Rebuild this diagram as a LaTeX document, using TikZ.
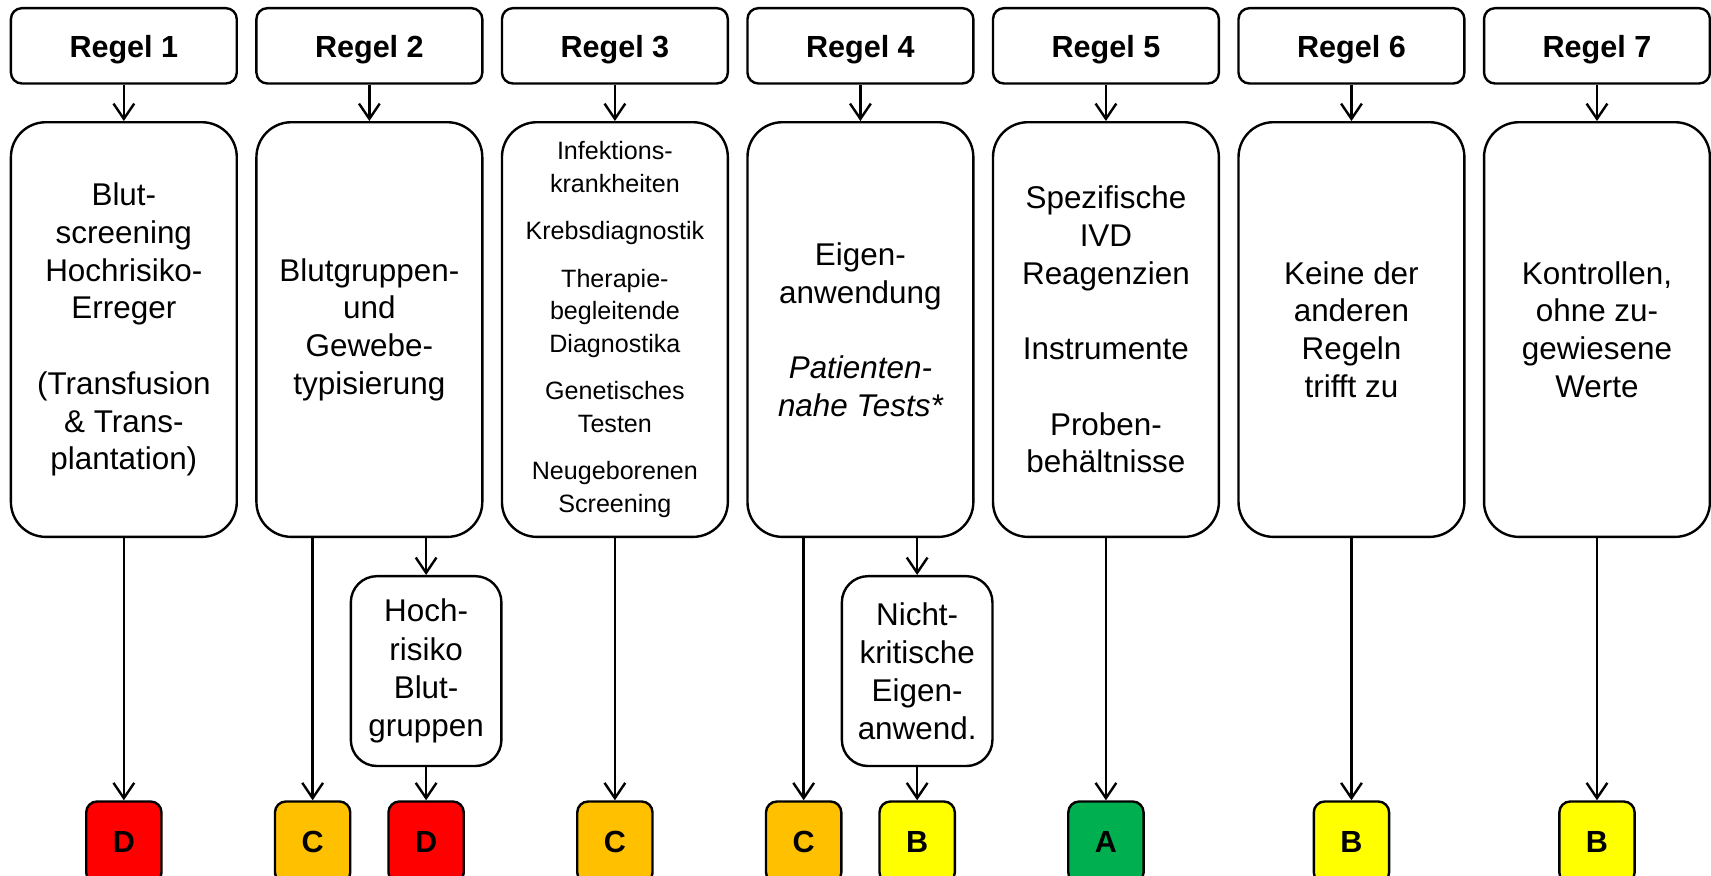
\documentclass[tikz,border=0pt]{standalone}
\usepackage{fontspec}
\setmainfont{Liberation Sans}
\usetikzlibrary{arrows.meta}
\definecolor{gD}{HTML}{FF0000}
\definecolor{gC}{HTML}{FFC000}
\definecolor{gB}{HTML}{FFFF00}
\definecolor{gA}{HTML}{00B050}
\newcommand\rtxt[1]{\raisebox{-1.8pt}[\height][\depth]{#1}}
\begin{document}
\begin{tikzpicture}[x=0.5pt,y=-0.5pt,
  box/.style={draw=black,line width=1.1pt,rounded corners=#1,align=center,inner sep=0pt},
  regel/.style={box=5pt,minimum width=103.5pt,minimum height=34.5pt,font=\fontsize{14}{17}\selectfont\bfseries},
  mainbox/.style={box=16pt,minimum width=103.5pt,minimum height=190pt,font=\fontsize{14.4}{17.3}\selectfont},
  smallbox/.style={box=16pt,minimum width=103.5pt,minimum height=190pt,font=\fontsize{11.5}{14.9}\selectfont},
  subbox/.style={box=12pt,minimum width=69pt,minimum height=87pt,font=\fontsize{14.4}{17.5}\selectfont},
  grade/.style={box=5pt,minimum width=34.5pt,minimum height=37.5pt,fill=#1,font=\fontsize{14}{17}\selectfont\bfseries},
  arr/.style={line width=1.1pt,-{Straight Barb[length=7pt,width=9.5pt]}}
]
\useasboundingbox (0,0) rectangle (1568,802);
% Regel boxes
\node[regel] (r1) at (113.5,42) {\rtxt{Regel 1}};
\node[regel] (r2) at (338.5,42) {\rtxt{Regel 2}};
\node[regel] (r3) at (563.5,42) {\rtxt{Regel 3}};
\node[regel] (r4) at (788.5,42) {\rtxt{Regel 4}};
\node[regel] (r5) at (1013.5,42) {\rtxt{Regel 5}};
\node[regel] (r6) at (1238.5,42) {\rtxt{Regel 6}};
\node[regel] (r7) at (1463.5,42) {\rtxt{Regel 7}};
% main boxes
\node[mainbox] (m1) at (113.5,302) {Blut-\\screening\\Hochrisiko-\\Erreger\\[17.3pt](Transfusion\\\& Trans-\\plantation)};
\node[mainbox] (m2) at (338.5,302) {Blutgruppen-\\und\\Gewebe-\\typisierung};
\node[smallbox] (m3) at (563.5,302) {Infektions-\\krankheiten\\[6.85pt]Krebsdiagnostik\\[6.85pt]Therapie-\\begleitende\\Diagnostika\\[6.85pt]Genetisches\\Testen\\[6.85pt]Neugeborenen\\Screening};
\node[mainbox] (m4) at (788.5,302) {Eigen-\\anwendung\\[17.3pt]\itshape Patienten-\\\itshape nahe Tests*};
\node[mainbox] (m5) at (1013.5,302) {Spezifische\\IVD\\Reagenzien\\[17.3pt]Instrumente\\[17.3pt]Proben-\\behältnisse};
\node[mainbox] (m6) at (1238.5,302) {Keine der\\anderen\\Regeln\\trifft zu};
\node[mainbox] (m7) at (1463.5,302) {Kontrollen,\\ohne zu-\\gewiesene\\Werte};
% sub boxes
\node[subbox] (s2) at (390.5,615) {Hoch-\\risiko\\Blut-\\gruppen};
\node[subbox] (s4) at (840.5,615) {Nicht-\\kritische\\Eigen-\\anwend.};
% grade boxes
\node[grade=gD] (g1) at (113.5,772) {D};
\node[grade=gC] (g2a) at (286.5,772) {C};
\node[grade=gD] (g2b) at (390.5,772) {D};
\node[grade=gC] (g3) at (563.5,772) {C};
\node[grade=gC] (g4a) at (736.5,772) {C};
\node[grade=gB] (g4b) at (840.5,772) {B};
\node[grade=gA] (g5) at (1013.5,772) {A};
\node[grade=gB] (g6) at (1238.5,772) {B};
\node[grade=gB] (g7) at (1463.5,772) {B};
% arrows
\foreach \i in {1,...,7} \draw[arr] (r\i) -- (m\i);
\draw[arr] (m1) -- (g1);
\draw[arr] (m3) -- (g3);
\draw[arr] (m5) -- (g5);
\draw[arr] (m6) -- (g6);
\draw[arr] (m7) -- (g7);
\draw[arr] (g2a.north |- m2.south) -- (g2a.north);
\draw[arr] (s2.north |- m2.south) -- (s2.north);
\draw[arr] (s2) -- (g2b);
\draw[arr] (g4a.north |- m4.south) -- (g4a.north);
\draw[arr] (s4.north |- m4.south) -- (s4.north);
\draw[arr] (s4) -- (g4b);
\end{tikzpicture}
\end{document}
